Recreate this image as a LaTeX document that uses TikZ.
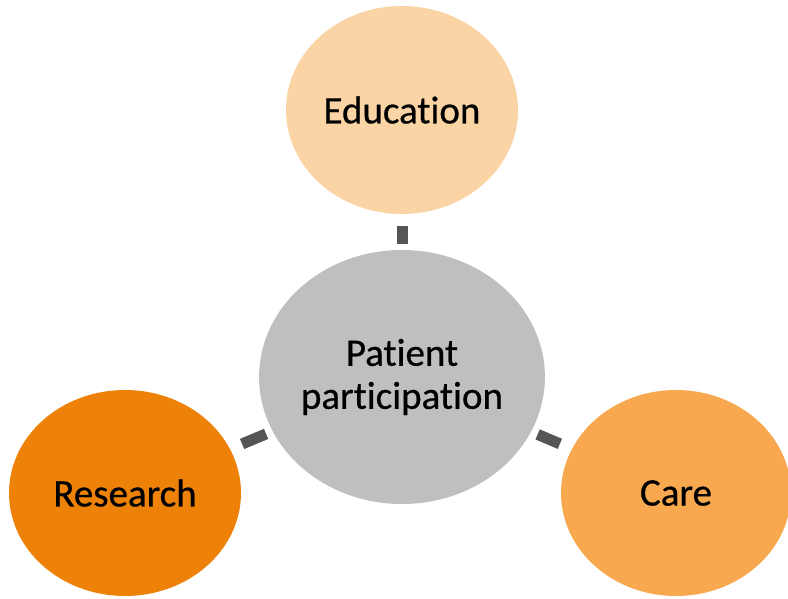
\documentclass[tikz,border=0pt]{standalone}
\usepackage{fontspec}
\setmainfont[Ligatures={NoCommon}, FakeBold=0.6]{Carlito}
\usetikzlibrary{shapes.geometric}
\definecolor{eduC}{HTML}{FBD4A5}
\definecolor{resC}{HTML}{EE8209}
\definecolor{careC}{HTML}{F8A84E}
\definecolor{midC}{HTML}{BFBFBF}
\definecolor{linkC}{HTML}{555555}
\tikzset{
  bubble/.style={ellipse, inner sep=0pt, text=black,
    font=\fontsize{39}{43}\selectfont, align=center},
  link/.style={draw=linkC, line width=11pt, line cap=butt}
}
\begin{document}
\begin{tikzpicture}[x=1pt,y=-1pt]
\clip (0,0) rectangle (788,599);
\fill[white] (0,0) rectangle (788,599);
\node[bubble, fill=midC, minimum width=280pt, minimum height=254pt] (mid) at (402,377) {Patient\\participation};
\node[bubble, fill=eduC, minimum width=232pt, minimum height=208pt] (edu) at (402,110) {Education};
\node[bubble, fill=resC, minimum width=232pt, minimum height=206pt] (res) at (125,493) {Research};
\node[bubble, fill=careC, minimum width=230pt, minimum height=206pt] (care) at (676,493) {Care};
\draw[link, shorten <=6pt, shorten >=12pt] (mid) -- (edu);
\draw[link, shorten <=7pt, shorten >=13pt] (mid) -- (res);
\draw[link, shorten <=7pt, shorten >=13pt] (mid) -- (care);
\end{tikzpicture}
\end{document}
